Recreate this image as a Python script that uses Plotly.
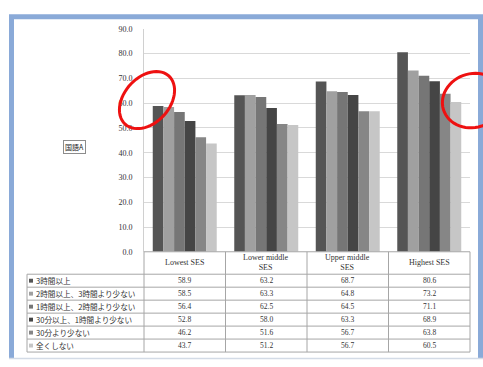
import numpy as np
import plotly.graph_objects as go

# SES groups (table header text carries the line breaks)
categories = ["Lowest SES", "Lower middle SES", "Upper middle SES", "Highest SES"]
header_labels = ["Lowest SES", "Lower middle<br>SES", "Upper middle<br>SES", "Highest SES"]

# Daily study time groups
series_names = [
    "3時間以上",
    "2時間以上、3時間より少ない",
    "1時間以上、2時間より少ない",
    "30分以上、1時間より少ない",
    "30分より少ない",
    "全くしない",
]

# 国語A mean score per SES group
s_3h_plus = [58.9, 63.2, 68.7, 80.6]
s_2h_3h = [58.5, 63.3, 64.8, 73.2]
s_1h_2h = [56.4, 62.5, 64.5, 71.1]
s_30m_1h = [52.8, 58.0, 63.3, 68.9]
s_under_30m = [46.2, 51.6, 56.7, 63.8]
s_none = [43.7, 51.2, 56.7, 60.5]

series_values = [s_3h_plus, s_2h_3h, s_1h_2h, s_30m_1h, s_under_30m, s_none]

y_ticks = [0, 10, 20, 30, 40, 50, 60, 70, 80, 90]

colors = ["#555555", "#a0a0a0", "#767676", "#454545", "#868686", "#c6c6c6"]

W, H = 483, 367
LATIN = "Liberation Serif, Noto Sans CJK JP, serif"
CJK = "Noto Sans CJK JP, sans-serif"
TXT = "#333333"


def px(x):
    return x / W


def py(y):
    return 1 - y / H


# plot area / table geometry in pixels
X0, X1 = 144, 470          # plot area left/right
Y_TOP, Y_ZERO = 25.5, 254  # value 90 and value 0
TABLE_LEFT = 27
HEADER_BOTTOM = 277
ROW_H = 13.3
col_w = (X1 - X0) / len(categories)

fig = go.Figure()
for name, vals, c in zip(series_names, series_values, colors):
    fig.add_trace(go.Bar(x=categories, y=vals, name=name, marker=dict(color=c, line=dict(width=0))))

shapes = []
annotations = []

grid_line = dict(color="#a6a6a6", width=1)

# table: vertical rules
for i in range(len(categories) + 1):
    xx = X0 + i * col_w
    shapes.append(dict(type="line", xref="paper", yref="paper",
                       x0=px(xx), x1=px(xx), y0=py(Y_ZERO), y1=py(HEADER_BOTTOM + ROW_H * len(series_names)),
                       line=grid_line))
shapes.append(dict(type="line", xref="paper", yref="paper",
                   x0=px(TABLE_LEFT), x1=px(TABLE_LEFT), y0=py(HEADER_BOTTOM),
                   y1=py(HEADER_BOTTOM + ROW_H * len(series_names)), line=grid_line))
# table: horizontal rules
shapes.append(dict(type="line", xref="paper", yref="paper",
                   x0=px(X0), x1=px(X1), y0=py(Y_ZERO), y1=py(Y_ZERO), line=grid_line))
for r in range(len(series_names) + 1):
    yy = HEADER_BOTTOM + r * ROW_H
    shapes.append(dict(type="line", xref="paper", yref="paper",
                       x0=px(TABLE_LEFT), x1=px(X1), y0=py(yy), y1=py(yy), line=grid_line))

# header labels
for i, lab in enumerate(header_labels):
    annotations.append(dict(xref="paper", yref="paper", x=px(X0 + (i + 0.5) * col_w),
                            y=py((Y_ZERO + HEADER_BOTTOM) / 2), text=lab, showarrow=False,
                            xanchor="center", yanchor="middle",
                            font=dict(family=LATIN, size=8, color=TXT), align="center"))

# rows: legend key, series name, values
for r, (name, vals, c) in enumerate(zip(series_names, series_values, colors)):
    yc = HEADER_BOTTOM + (r + 0.5) * ROW_H
    shapes.append(dict(type="rect", xref="paper", yref="paper",
                       x0=px(29), x1=px(33), y0=py(yc - 2), y1=py(yc + 2),
                       fillcolor=c, line=dict(width=0)))
    annotations.append(dict(xref="paper", yref="paper", x=px(34), y=py(yc), text=name,
                            showarrow=False, xanchor="left", yanchor="middle",
                            font=dict(family=CJK, size=7.6, color=TXT)))
    for i, v in enumerate(vals):
        annotations.append(dict(xref="paper", yref="paper", x=px(X0 + (i + 0.5) * col_w), y=py(yc),
                                text=f"{v:.1f}", showarrow=False, xanchor="center", yanchor="middle",
                                font=dict(family=LATIN, size=7.5, color=TXT)))

# subject label box
annotations.append(dict(xref="paper", yref="paper", x=px(74.5), y=py(146.5), text="国語A",
                        showarrow=False, xanchor="center", yanchor="middle",
                        font=dict(family=CJK, size=7, color="#222222"),
                        bordercolor="#8c8c8c", borderwidth=1, borderpad=1, bgcolor="white"))

# window frame
frame = "#8aaad8"
shapes += [
    dict(type="line", xref="paper", yref="paper", x0=px(11.5), x1=px(11.5), y0=py(13), y1=py(363),
         line=dict(color=frame, width=5)),
    dict(type="line", xref="paper", yref="paper", x0=px(9), x1=px(483), y0=py(13), y1=py(13),
         line=dict(color=frame, width=5)),
    dict(type="line", xref="paper", yref="paper", x0=px(480.5), x1=px(480.5), y0=py(13), y1=py(363),
         line=dict(color=frame, width=5)),
    dict(type="line", xref="paper", yref="paper", x0=px(9), x1=px(483), y0=py(363.5), y1=py(363.5),
         line=dict(color="#d3dbe6", width=1.5)),
]


# red highlight ellipses
def ellipse_path(cx, cy, a, b, ang_deg, n=60):
    t = np.linspace(0, 2 * np.pi, n)
    ang = np.radians(ang_deg)
    xs = cx + a * np.cos(t) * np.cos(ang) - b * np.sin(t) * np.sin(ang)
    ys = cy + a * np.cos(t) * np.sin(ang) + b * np.sin(t) * np.cos(ang)
    pts = [f"{px(x):.5f},{py(y):.5f}" for x, y in zip(xs, ys)]
    return "M" + " L".join(pts) + " Z"


shapes.append(dict(type="path", xref="paper", yref="paper", path=ellipse_path(147, 98.5, 33, 23, -50),
                   line=dict(color="#ee1111", width=3)))
shapes.append(dict(type="path", xref="paper", yref="paper", path=ellipse_path(473, 99, 31, 27.5, -20),
                   line=dict(color="#ee1111", width=3)))

fig.update_layout(
    width=W, height=H,
    margin=dict(l=0, r=0, t=0, b=0),
    paper_bgcolor="white", plot_bgcolor="white",
    barmode="group", bargap=0.215, bargroupgap=0,
    showlegend=False,
    xaxis=dict(domain=[px(X0), px(X1)], showticklabels=False, ticks="", showgrid=False,
               showline=False, zeroline=False, range=[-0.5, 3.5]),
    yaxis=dict(domain=[py(Y_ZERO), py(Y_TOP)], range=[0, 90], tickvals=y_ticks,
               ticktext=[f"{t:.1f}" for t in y_ticks], showgrid=True, gridcolor="#d9d9d9",
               gridwidth=1, zeroline=False, showline=True, linecolor="#d0d0d0", linewidth=1,
               ticks="", ticklabelstandoff=9, tickfont=dict(family=LATIN, size=8, color=TXT)),
    shapes=shapes,
    annotations=annotations,
)

fig.write_html("out.html")
